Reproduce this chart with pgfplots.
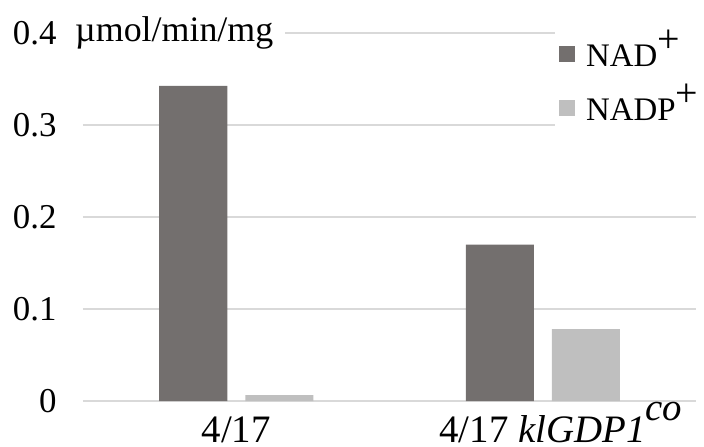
\documentclass[border=0pt]{standalone}
\usepackage{pgfplots}
\pgfplotsset{compat=1.18}
\usepackage{fontspec}
\setmainfont{Liberation Serif}
\definecolor{nad}{HTML}{736F6E}
\definecolor{nadp}{HTML}{BFBFBF}
\definecolor{gridc}{HTML}{D9D9D9}
\newcommand{\legsize}{\fontsize{33}{38}\selectfont}
\newcommand{\supplus}{\raisebox{0.42em}{\fontsize{40}{40}\selectfont +}}
\begin{document}
\begin{tikzpicture}
\useasboundingbox (-83bp,-46bp) rectangle (621bp,401bp);
\begin{axis}[
  scale only axis, width=613bp, height=368bp,
  ymin=0, ymax=0.4, xmin=-0.5, xmax=1.5,
  clip=false,
  axis line style={draw=none}, tick style={draw=none},
  ymajorgrids, grid style={gridc, line width=1.5bp},
  ytick={0,0.1,0.2,0.3,0.4},
  /pgf/number format/assume math mode=true,
  yticklabel style={font=\fontsize{35}{40}\selectfont, /pgf/number format/fixed, xshift=-23bp},
  xtick={0,1},
  xticklabels={4/17, {\hspace*{36bp}4/17 \textit{klGDP1}\raisebox{0.55em}{\textit{co}}}},
  xticklabel style={font=\fontsize{39}{45}\selectfont, anchor=base, yshift=-37bp},
  ybar, bar width=68bp,
  legend style={at={(rel axis cs:0.770,1.022)}, anchor=north west, draw=none, fill=white,
    inner xsep=4bp, inner ysep=17bp, row sep=22bp,
    nodes={inner xsep=11bp, inner ysep=0pt, text height=24bp, text depth=8bp}},
  legend cell align=left,
  legend image code/.code={\fill[#1] (0bp,-4bp) rectangle (16bp,12bp);},
]
\addplot[fill=nad, draw=none, bar shift=-43bp] coordinates {(0,0.3424) (1,0.170)};
\addplot[fill=nadp, draw=none, bar shift=43bp] coordinates {(0,0.0065) (1,0.078)};
\legend{{\legsize NAD\supplus}, {\legsize NADP\supplus}}
\node[anchor=west, fill=white, inner xsep=0pt, inner ysep=6bp, font=\fontsize{36}{40}\selectfont]
  at ([xshift=-8bp]rel axis cs:0,1) {µmol/min/mg\kern12bp};
\end{axis}
\end{tikzpicture}
\end{document}
